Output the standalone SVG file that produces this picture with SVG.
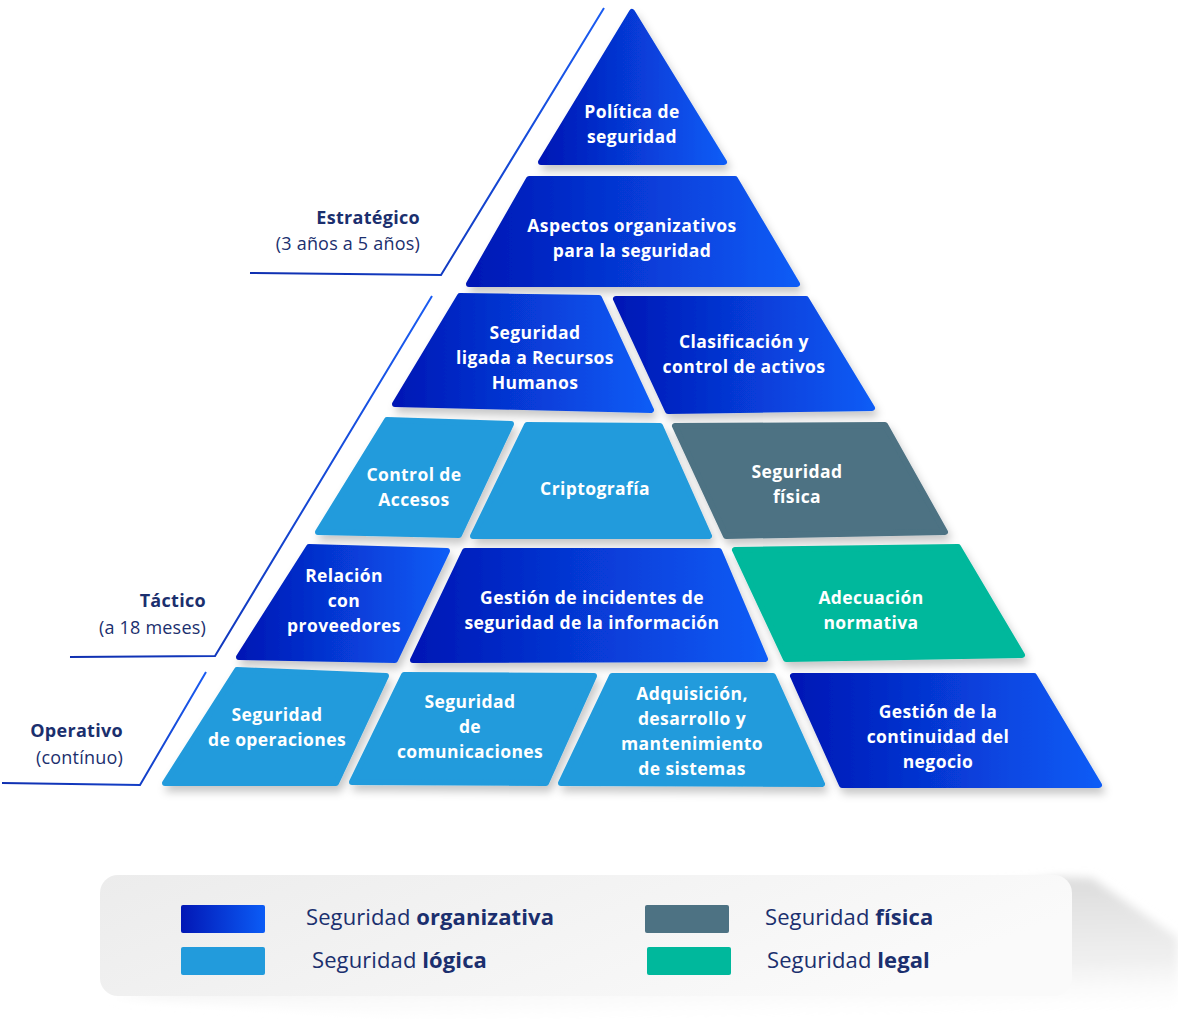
<svg xmlns="http://www.w3.org/2000/svg" width="1178" height="1019" viewBox="0 0 1178 1019">
<defs>
<linearGradient id="org" x1="0" y1="0" x2="1" y2="0">
<stop offset="0" stop-color="#0217b5"/>
<stop offset="1" stop-color="#0b5cf6"/>
</linearGradient>
<linearGradient id="legbg" x1="0" y1="0" x2="1" y2="0.3">
<stop offset="0" stop-color="#ececec"/>
<stop offset="1" stop-color="#fafafa"/>
</linearGradient>
<linearGradient id="side" x1="0.85" y1="0" x2="1" y2="1">
<stop offset="0" stop-color="#dcdcdc"/>
<stop offset="0.6" stop-color="#f0f0f0"/>
<stop offset="1" stop-color="#ffffff" stop-opacity="0"/>
</linearGradient>
<linearGradient id="lineg" x1="0" y1="1" x2="1" y2="0">
<stop offset="0" stop-color="#0f2fb0"/>
<stop offset="1" stop-color="#1a5cf2"/>
</linearGradient>
<filter id="sh" x="-20%" y="-20%" width="140%" height="150%">
<feDropShadow dx="3" dy="6" stdDeviation="4" flood-color="#000" flood-opacity="0.22"/>
</filter>
<filter id="blur" x="-20%" y="-50%" width="140%" height="200%">
<feGaussianBlur stdDeviation="5"/>
</filter>
</defs>
<style>
.o{fill:url(#org);stroke:url(#org);stroke-width:6;stroke-linejoin:round;filter:url(#sh)}
.l{fill:#229bdc;stroke:#229bdc;stroke-width:6;stroke-linejoin:round;filter:url(#sh)}
.f{fill:#4d7283;stroke:#4d7283;stroke-width:6;stroke-linejoin:round;filter:url(#sh)}
.g{fill:#00b89c;stroke:#00b89c;stroke-width:6;stroke-linejoin:round;filter:url(#sh)}
.t{font-family:"Open Sans","Liberation Sans",sans-serif;font-weight:700;font-size:17.5px;letter-spacing:0.4px;fill:#ffffff;text-anchor:middle}
.lvb{font-family:"Open Sans","Liberation Sans",sans-serif;font-weight:700;font-size:18px;letter-spacing:0.3px;fill:#1b2f6e;text-anchor:end}
.lvr{font-family:"Open Sans","Liberation Sans",sans-serif;font-weight:400;font-size:18px;letter-spacing:0.2px;fill:#1b2f6e;text-anchor:end}
.lg{font-family:"Open Sans","Liberation Sans",sans-serif;font-size:22px;letter-spacing:0.1px;fill:#1b2f6e}
.lg tspan.b{font-weight:700}
.ln{fill:none;stroke:url(#lineg);stroke-width:2}
</style>
<rect width="1178" height="1019" fill="#ffffff"/>

<g id="levels">
<g id="level-estrategico">
<path class="ln" d="M604 8 L441 275 L250 273"/>
<text class="lvb" x="420" y="224">Estratégico</text>
<text class="lvr" x="420" y="250">(3 años a 5 años)</text>
</g>
<g id="level-tactico">
<path class="ln" d="M432 296 L215 656 L70 657"/>
<text class="lvb" x="206" y="607">Táctico</text>
<text class="lvr" x="206" y="634">(a 18 meses)</text>
</g>
<g id="level-operativo">
<path class="ln" d="M206 672 L140 785 L2 783"/>
<text class="lvb" x="123" y="737">Operativo</text>
<text class="lvr" x="123" y="764">(contínuo)</text>
</g>
</g>

<g id="connectors"></g>

<g id="n-politica">
<polygon class="o" points="632,12 724,162 541,162"/>
<text class="t" x="632" y="118">Política de</text>
<text class="t" x="632" y="143">seguridad</text>
</g>
<g id="n-aspectos">
<polygon class="o" points="529,179 735,179 797,284 469,284"/>
<text class="t" x="632" y="232">Aspectos organizativos</text>
<text class="t" x="632" y="257">para la seguridad</text>
</g>
<g id="n-rrhh">
<polygon class="o" points="460,296 599,298 651,410 395,404"/>
<text class="t" x="535" y="339">Seguridad</text>
<text class="t" x="535" y="364">ligada a Recursos</text>
<text class="t" x="535" y="389">Humanos</text>
</g>
<g id="n-clasificacion">
<polygon class="o" points="616,299 806,299 872,408 668,411"/>
<text class="t" x="744" y="348">Clasificación y</text>
<text class="t" x="744" y="373">control de activos</text>
</g>
<g id="n-accesos">
<polygon class="l" points="387,420 511,424 459,535 318,532"/>
<text class="t" x="414" y="481">Control de</text>
<text class="t" x="414" y="506">Accesos</text>
</g>
<g id="n-cripto">
<polygon class="l" points="527,425 660,426 709,536 473,536"/>
<text class="t" x="595" y="495">Criptografía</text>
</g>
<g id="n-fisica">
<polygon class="f" points="675,426 885,425 945,532 726,536"/>
<text class="t" x="797" y="478">Seguridad</text>
<text class="t" x="797" y="503">física</text>
</g>
<g id="n-proveedores">
<polygon class="o" points="309,547 447,551 395,660 239,657"/>
<text class="t" x="344" y="582">Relación</text>
<text class="t" x="344" y="607">con</text>
<text class="t" x="344" y="632">proveedores</text>
</g>
<g id="n-incidentes">
<polygon class="o" points="465,551 719,551 765,659 413,660"/>
<text class="t" x="592" y="604">Gestión de incidentes de</text>
<text class="t" x="592" y="629">seguridad de la información</text>
</g>
<g id="n-adecuacion">
<polygon class="g" points="735,550 958,547 1022,655 786,659"/>
<text class="t" x="871" y="604">Adecuación</text>
<text class="t" x="871" y="629">normativa</text>
</g>
<g id="n-operaciones">
<polygon class="l" points="237,670 386,676 336,783 165,783"/>
<text class="t" x="277" y="721">Seguridad</text>
<text class="t" x="277" y="746">de operaciones</text>
</g>
<g id="n-comunicaciones">
<polygon class="l" points="404,675 594,676 546,783 352,782"/>
<text class="t" x="470" y="708">Seguridad</text>
<text class="t" x="470" y="733">de</text>
<text class="t" x="470" y="758">comunicaciones</text>
</g>
<g id="n-adquisicion">
<polygon class="l" points="612,676 773,676 822,784 561,783"/>
<text class="t" x="692" y="700">Adquisición,</text>
<text class="t" x="692" y="725">desarrollo y</text>
<text class="t" x="692" y="750">mantenimiento</text>
<text class="t" x="692" y="775">de sistemas</text>
</g>
<g id="n-continuidad">
<polygon class="o" points="793,676 1034,676 1099,785 842,785"/>
<text class="t" x="938" y="718">Gestión de la</text>
<text class="t" x="938" y="743">continuidad del</text>
<text class="t" x="938" y="768">negocio</text>
</g>

<g id="legend">
<polygon points="1060,877 1092,878 1178,938 1178,1019 420,1019 112,997" fill="url(#side)" filter="url(#blur)"/>
<rect x="100" y="875" width="972" height="121" rx="18" fill="url(#legbg)"/>
<rect x="181" y="905" width="84" height="28" rx="2" fill="url(#org)"/>
<rect x="181" y="947" width="84" height="28" rx="2" fill="#229bdc"/>
<rect x="645" y="905" width="84" height="28" rx="2" fill="#4d7283"/>
<rect x="647" y="947" width="84" height="28" rx="2" fill="#00b89c"/>
<text class="lg" x="306" y="925">Seguridad <tspan class="b">organizativa</tspan></text>
<text class="lg" x="312" y="968">Seguridad <tspan class="b">lógica</tspan></text>
<text class="lg" x="765" y="925">Seguridad <tspan class="b">física</tspan></text>
<text class="lg" x="767" y="968">Seguridad <tspan class="b">legal</tspan></text>
</g>
</svg>
